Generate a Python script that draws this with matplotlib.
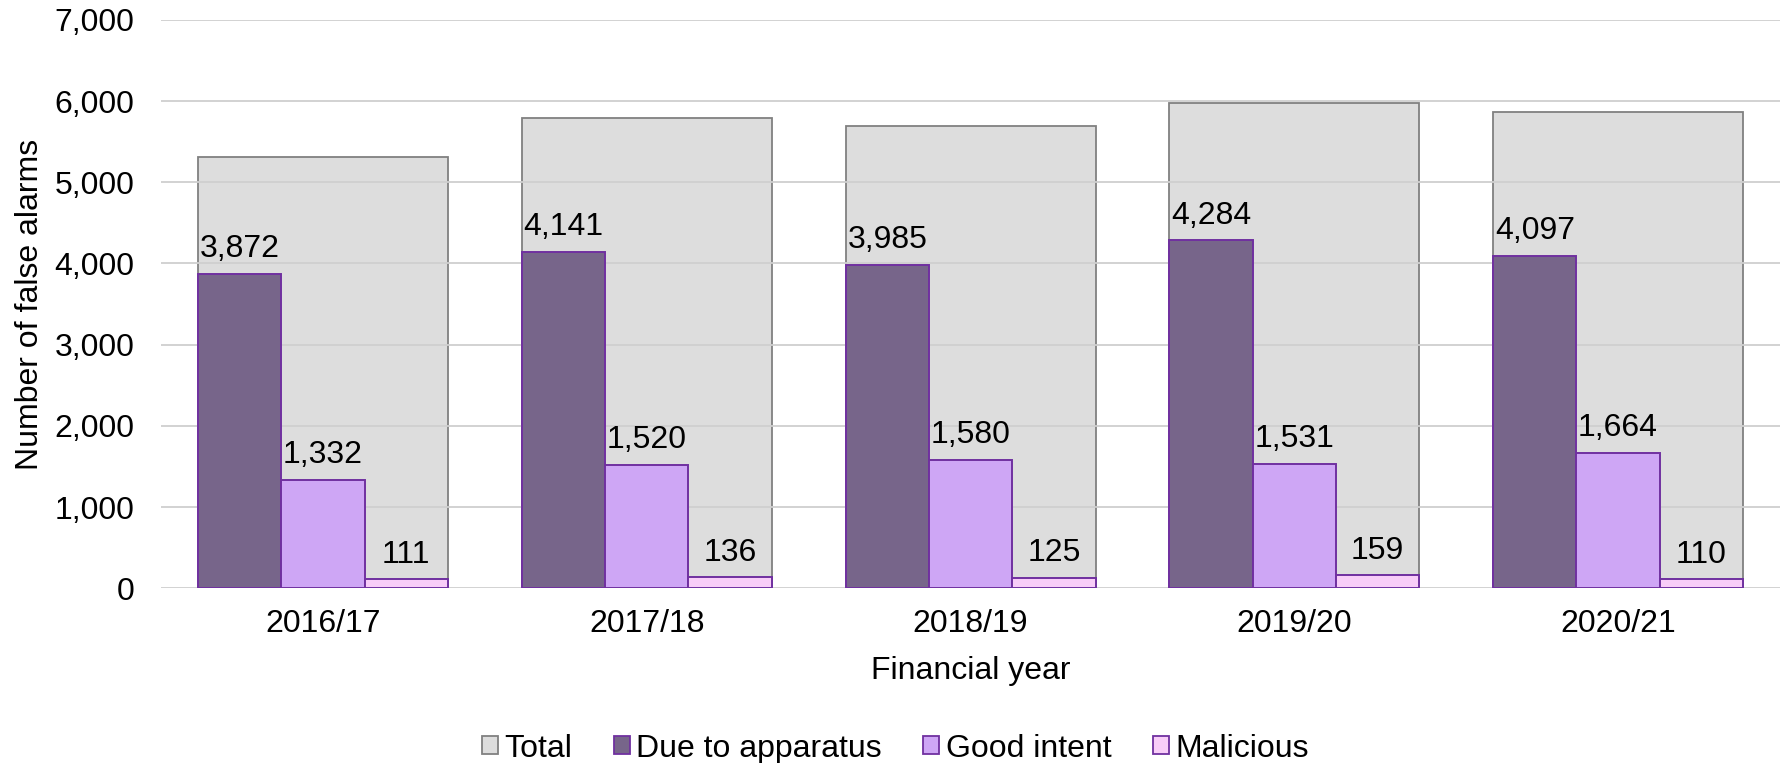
import matplotlib
matplotlib.use("Agg")
import matplotlib.pyplot as plt
from matplotlib.patches import Patch
import numpy as np

plt.rcParams['font.family'] = ['Liberation Sans', 'DejaVu Sans']

years = ["2016/17", "2017/18", "2018/19", "2019/20", "2020/21"]
total = [5315, 5797, 5690, 5974, 5871]
apparatus = [3872, 4141, 3985, 4284, 4097]
good_intent = [1332, 1520, 1580, 1531, 1664]
malicious = [111, 136, 125, 159, 110]
yticks = [0, 1000, 2000, 3000, 4000, 5000, 6000, 7000]

FS = 23

fig = plt.figure(figsize=(17.8, 7.63), dpi=100)
ax = fig.add_axes([0.0905, 0.229, 0.9095, 0.745])

x = np.arange(len(years))
tw = 0.772
sw = tw / 3

ax.bar(x, total, width=tw, color="#DDDDDD", edgecolor="#808080", linewidth=1.3, zorder=1)
for yv in yticks:
    ax.axhline(yv, color="#CFCFCF", linewidth=1.3, zorder=1.5)

series = [(apparatus, "#77658A", -1), (good_intent, "#CEA6F5", 0), (malicious, "#F8CDF8", 1)]
for vals, col, off in series:
    ax.bar(x + off * sw, vals, width=sw, color=col, edgecolor="#7030A0", linewidth=1.4, zorder=3)
    for xi, v in zip(x + off * sw, vals):
        ax.annotate(f"{v:,}", (xi, v), xytext=(0, 7), textcoords="offset points",
                    ha="center", va="bottom", fontsize=FS, color="black", zorder=4)

ax.set_xlim(-0.5, len(years) - 0.5)
ax.set_ylim(0, 7000)
ax.set_yticks(yticks)
ax.set_yticklabels([f"{v:,}" for v in yticks], fontsize=FS)
ax.set_xticks(x)
ax.set_xticklabels(years, fontsize=FS)
ax.tick_params(axis="x", length=0, pad=15)
ax.tick_params(axis="y", length=0, pad=19)
for s in ax.spines.values():
    s.set_visible(False)

ax.set_xlabel("Financial year", fontsize=FS, labelpad=12)
fig.text(0.017, 0.229 + 0.745 / 2, "Number of false alarms", rotation=90, fontsize=FS,
         ha="center", va="center")

handles = [Patch(facecolor="#DDDDDD", edgecolor="#808080", linewidth=1.3, label="Total"),
           Patch(facecolor="#77658A", edgecolor="#7030A0", linewidth=1.3, label="Due to apparatus"),
           Patch(facecolor="#CEA6F5", edgecolor="#7030A0", linewidth=1.3, label="Good intent"),
           Patch(facecolor="#F8CDF8", edgecolor="#7030A0", linewidth=1.3, label="Malicious")]
fig.legend(handles=handles, loc="center", bbox_to_anchor=(0.503, 0.019), ncol=4, frameon=False,
           fontsize=FS, handlelength=0.5, handleheight=0.5, handletextpad=0.2, columnspacing=1.3)

fig.savefig("out.png", dpi=100)
